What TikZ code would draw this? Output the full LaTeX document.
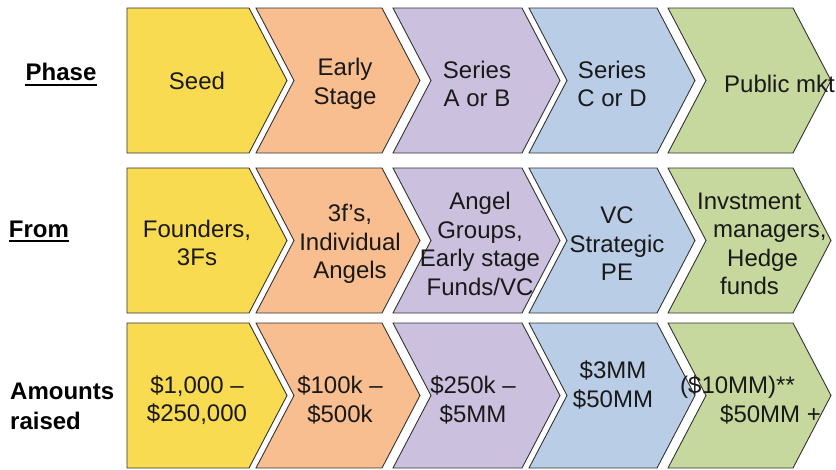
\documentclass[tikz,border=0pt]{standalone}
\usepackage{fontspec}
\setmainfont{Liberation Sans}

\definecolor{seedyellow}{HTML}{F9DB52}
\definecolor{earlyorange}{HTML}{F8BE90}
\definecolor{abpurple}{HTML}{CBC0DE}
\definecolor{cdblue}{HTML}{BACDE6}
\definecolor{pubgreen}{HTML}{C6D89D}

\tikzset{
  chev/.style={draw=black!80,line width=0.9pt,line join=miter},
  txt/.style={font=\fontsize{24}{28.5}\selectfont,align=center,inner sep=0pt,text=black!90},
  rowlab/.style={font=\fontsize{24}{30}\selectfont\bfseries,inner sep=0pt},
}

\begin{document}
\begin{tikzpicture}[x=1pt,y=-1pt]
                \useasboundingbox (0,0) rectangle (836,469);
                %% chevrons, one row per \ya
                \foreach \ya in {8,168,323}{
                  \pgfmathsetmacro\yb{\ya+145}
                  \pgfmathsetmacro\ym{\ya+72.5}
                  \draw[chev,fill=seedyellow] (127,\ya) -- (249,\ya) -- (287,\ym) -- (249,\yb) -- (127,\yb) -- cycle;
                  \foreach \xl/\xr/\col in {256/382/earlyorange,393/522/abpurple,529/657/cdblue,668/793/pubgreen}{
                    \draw[chev,fill=\col] (\xl,\ya) -- (\xr,\ya) -- (\xr+38,\ym) -- (\xr,\yb) -- (\xl,\yb) -- (\xl+38,\ym) -- cycle;
                  }
                }
                %% Phase
                \node[txt] (seed) at (197,81) {Seed};
                \node[txt] (early) at (345,84) {Early\\Stage};
                \node[txt] (serab) at (477,84) {Series\\A or B};
                \node[txt] (sercd) at (612,84) {Series\\C or D};
                \node[txt,anchor=west] (pubmkt) at (724,84) {Public mkt};
                %% From
                \node[txt] (founders) at (197,243) {Founders,\\3Fs};
                \node[txt] (angels) at (350,244) {3f’s,\\Individual\\Angels};
                \node[txt] (groups) at (480,244) {Angel\\Groups,\\Early stage\\Funds/VC};
                \node[txt] (vcpe) at (617,244) {VC\\Strategic\\PE};
                \node[txt,anchor=west,align=left] (hedge) at (697,244) {Invstment\\\hspace*{16pt}managers,\\\hspace*{30pt}Hedge\\\hspace*{23pt}funds};
                %% Amounts raised
                \node[txt] (amseed) at (197,400) {\$1,000 –\\\$250,000};
                \node[txt] (amearly) at (340,400) {\$100k –\\\$500k};
                \node[txt] (amab) at (473,400) {\$250k –\\\$5MM};
                \node[txt] (amcd) at (613,385) {\$3MM\\\$50MM};
                \node[txt,anchor=west,align=left] (ampub) at (680,400) {(\$10MM)**\\\hspace*{40pt}\$50MM +};
                %% row labels
                \node[rowlab] (phase) at (61,72) {Phase};
                \node[rowlab] (from) at (39,229) {From};
                \node[rowlab,anchor=west,align=left] (amounts) at (10,406) {Amounts\\raised};
                \draw[line width=2pt] ([yshift=-4pt]phase.base west) -- ([yshift=-4pt]phase.base east);
                \draw[line width=2pt] ([yshift=-4pt]from.base west) -- ([yshift=-4pt]from.base east);
            \end{tikzpicture}
\end{document}
